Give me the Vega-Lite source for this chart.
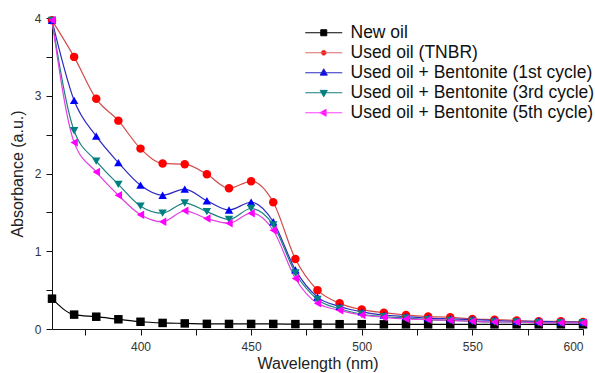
{
  "$schema": "https://vega.github.io/schema/vega-lite/v6.json",
  "width": 531,
  "height": 311,
  "autosize": {"type": "none"},
  "padding": {"left": 52, "top": 18, "right": 12, "bottom": 44},
  "background": "white",
  "config": {
    "font": "Liberation Sans",
    "view": {"stroke": null},
    "axis": {
      "grid": false,
      "domainColor": "#111",
      "tickColor": "#111",
      "tickSize": 6,
      "labelFontSize": 12,
      "labelColor": "#333",
      "titleFontSize": 16,
      "titleFontWeight": "normal",
      "titleColor": "#222"
    }
  },
  "datasets": {
    "spectra": [
      {"wavelength": 360, "absorbance": 0.39, "series": "New oil"},
      {"wavelength": 370, "absorbance": 0.185, "series": "New oil"},
      {"wavelength": 380, "absorbance": 0.158, "series": "New oil"},
      {"wavelength": 390, "absorbance": 0.125, "series": "New oil"},
      {"wavelength": 400, "absorbance": 0.093, "series": "New oil"},
      {"wavelength": 410, "absorbance": 0.078, "series": "New oil"},
      {"wavelength": 420, "absorbance": 0.072, "series": "New oil"},
      {"wavelength": 430, "absorbance": 0.066, "series": "New oil"},
      {"wavelength": 440, "absorbance": 0.065, "series": "New oil"},
      {"wavelength": 450, "absorbance": 0.065, "series": "New oil"},
      {"wavelength": 460, "absorbance": 0.065, "series": "New oil"},
      {"wavelength": 470, "absorbance": 0.063, "series": "New oil"},
      {"wavelength": 480, "absorbance": 0.062, "series": "New oil"},
      {"wavelength": 490, "absorbance": 0.062, "series": "New oil"},
      {"wavelength": 500, "absorbance": 0.062, "series": "New oil"},
      {"wavelength": 510, "absorbance": 0.06, "series": "New oil"},
      {"wavelength": 520, "absorbance": 0.06, "series": "New oil"},
      {"wavelength": 530, "absorbance": 0.06, "series": "New oil"},
      {"wavelength": 540, "absorbance": 0.06, "series": "New oil"},
      {"wavelength": 550, "absorbance": 0.06, "series": "New oil"},
      {"wavelength": 560, "absorbance": 0.06, "series": "New oil"},
      {"wavelength": 570, "absorbance": 0.06, "series": "New oil"},
      {"wavelength": 580, "absorbance": 0.06, "series": "New oil"},
      {"wavelength": 590, "absorbance": 0.06, "series": "New oil"},
      {"wavelength": 600, "absorbance": 0.06, "series": "New oil"},
      {"wavelength": 360, "absorbance": 3.97, "series": "Used oil (TNBR)"},
      {"wavelength": 370, "absorbance": 3.5, "series": "Used oil (TNBR)"},
      {"wavelength": 380, "absorbance": 2.96, "series": "Used oil (TNBR)"},
      {"wavelength": 390, "absorbance": 2.68, "series": "Used oil (TNBR)"},
      {"wavelength": 400, "absorbance": 2.32, "series": "Used oil (TNBR)"},
      {"wavelength": 410, "absorbance": 2.13, "series": "Used oil (TNBR)"},
      {"wavelength": 420, "absorbance": 2.12, "series": "Used oil (TNBR)"},
      {"wavelength": 430, "absorbance": 1.99, "series": "Used oil (TNBR)"},
      {"wavelength": 440, "absorbance": 1.81, "series": "Used oil (TNBR)"},
      {"wavelength": 450, "absorbance": 1.9, "series": "Used oil (TNBR)"},
      {"wavelength": 460, "absorbance": 1.63, "series": "Used oil (TNBR)"},
      {"wavelength": 470, "absorbance": 0.9, "series": "Used oil (TNBR)"},
      {"wavelength": 480, "absorbance": 0.5, "series": "Used oil (TNBR)"},
      {"wavelength": 490, "absorbance": 0.33, "series": "Used oil (TNBR)"},
      {"wavelength": 500, "absorbance": 0.25, "series": "Used oil (TNBR)"},
      {"wavelength": 510, "absorbance": 0.21, "series": "Used oil (TNBR)"},
      {"wavelength": 520, "absorbance": 0.18, "series": "Used oil (TNBR)"},
      {"wavelength": 530, "absorbance": 0.16, "series": "Used oil (TNBR)"},
      {"wavelength": 540, "absorbance": 0.15, "series": "Used oil (TNBR)"},
      {"wavelength": 550, "absorbance": 0.13, "series": "Used oil (TNBR)"},
      {"wavelength": 560, "absorbance": 0.12, "series": "Used oil (TNBR)"},
      {"wavelength": 570, "absorbance": 0.11, "series": "Used oil (TNBR)"},
      {"wavelength": 580, "absorbance": 0.1, "series": "Used oil (TNBR)"},
      {"wavelength": 590, "absorbance": 0.1, "series": "Used oil (TNBR)"},
      {"wavelength": 600, "absorbance": 0.09, "series": "Used oil (TNBR)"},
      {"wavelength": 360, "absorbance": 3.97, "series": "Used oil + Bentonite (1st cycle)"},
      {"wavelength": 370, "absorbance": 2.94, "series": "Used oil + Bentonite (1st cycle)"},
      {"wavelength": 380, "absorbance": 2.48, "series": "Used oil + Bentonite (1st cycle)"},
      {"wavelength": 390, "absorbance": 2.14, "series": "Used oil + Bentonite (1st cycle)"},
      {"wavelength": 400, "absorbance": 1.85, "series": "Used oil + Bentonite (1st cycle)"},
      {"wavelength": 410, "absorbance": 1.72, "series": "Used oil + Bentonite (1st cycle)"},
      {"wavelength": 420, "absorbance": 1.8, "series": "Used oil + Bentonite (1st cycle)"},
      {"wavelength": 430, "absorbance": 1.65, "series": "Used oil + Bentonite (1st cycle)"},
      {"wavelength": 440, "absorbance": 1.53, "series": "Used oil + Bentonite (1st cycle)"},
      {"wavelength": 450, "absorbance": 1.63, "series": "Used oil + Bentonite (1st cycle)"},
      {"wavelength": 460, "absorbance": 1.38, "series": "Used oil + Bentonite (1st cycle)"},
      {"wavelength": 470, "absorbance": 0.76, "series": "Used oil + Bentonite (1st cycle)"},
      {"wavelength": 480, "absorbance": 0.41, "series": "Used oil + Bentonite (1st cycle)"},
      {"wavelength": 490, "absorbance": 0.29, "series": "Used oil + Bentonite (1st cycle)"},
      {"wavelength": 500, "absorbance": 0.22, "series": "Used oil + Bentonite (1st cycle)"},
      {"wavelength": 510, "absorbance": 0.18, "series": "Used oil + Bentonite (1st cycle)"},
      {"wavelength": 520, "absorbance": 0.16, "series": "Used oil + Bentonite (1st cycle)"},
      {"wavelength": 530, "absorbance": 0.14, "series": "Used oil + Bentonite (1st cycle)"},
      {"wavelength": 540, "absorbance": 0.13, "series": "Used oil + Bentonite (1st cycle)"},
      {"wavelength": 550, "absorbance": 0.12, "series": "Used oil + Bentonite (1st cycle)"},
      {"wavelength": 560, "absorbance": 0.11, "series": "Used oil + Bentonite (1st cycle)"},
      {"wavelength": 570, "absorbance": 0.1, "series": "Used oil + Bentonite (1st cycle)"},
      {"wavelength": 580, "absorbance": 0.1, "series": "Used oil + Bentonite (1st cycle)"},
      {"wavelength": 590, "absorbance": 0.09, "series": "Used oil + Bentonite (1st cycle)"},
      {"wavelength": 600, "absorbance": 0.09, "series": "Used oil + Bentonite (1st cycle)"},
      {"wavelength": 360, "absorbance": 3.97, "series": "Used oil + Bentonite (3rd cycle)"},
      {"wavelength": 370, "absorbance": 2.55, "series": "Used oil + Bentonite (3rd cycle)"},
      {"wavelength": 380, "absorbance": 2.16, "series": "Used oil + Bentonite (3rd cycle)"},
      {"wavelength": 390, "absorbance": 1.86, "series": "Used oil + Bentonite (3rd cycle)"},
      {"wavelength": 400, "absorbance": 1.58, "series": "Used oil + Bentonite (3rd cycle)"},
      {"wavelength": 410, "absorbance": 1.49, "series": "Used oil + Bentonite (3rd cycle)"},
      {"wavelength": 420, "absorbance": 1.62, "series": "Used oil + Bentonite (3rd cycle)"},
      {"wavelength": 430, "absorbance": 1.51, "series": "Used oil + Bentonite (3rd cycle)"},
      {"wavelength": 440, "absorbance": 1.41, "series": "Used oil + Bentonite (3rd cycle)"},
      {"wavelength": 450, "absorbance": 1.55, "series": "Used oil + Bentonite (3rd cycle)"},
      {"wavelength": 460, "absorbance": 1.34, "series": "Used oil + Bentonite (3rd cycle)"},
      {"wavelength": 470, "absorbance": 0.72, "series": "Used oil + Bentonite (3rd cycle)"},
      {"wavelength": 480, "absorbance": 0.38, "series": "Used oil + Bentonite (3rd cycle)"},
      {"wavelength": 490, "absorbance": 0.26, "series": "Used oil + Bentonite (3rd cycle)"},
      {"wavelength": 500, "absorbance": 0.19, "series": "Used oil + Bentonite (3rd cycle)"},
      {"wavelength": 510, "absorbance": 0.16, "series": "Used oil + Bentonite (3rd cycle)"},
      {"wavelength": 520, "absorbance": 0.14, "series": "Used oil + Bentonite (3rd cycle)"},
      {"wavelength": 530, "absorbance": 0.12, "series": "Used oil + Bentonite (3rd cycle)"},
      {"wavelength": 540, "absorbance": 0.11, "series": "Used oil + Bentonite (3rd cycle)"},
      {"wavelength": 550, "absorbance": 0.1, "series": "Used oil + Bentonite (3rd cycle)"},
      {"wavelength": 560, "absorbance": 0.09, "series": "Used oil + Bentonite (3rd cycle)"},
      {"wavelength": 570, "absorbance": 0.09, "series": "Used oil + Bentonite (3rd cycle)"},
      {"wavelength": 580, "absorbance": 0.08, "series": "Used oil + Bentonite (3rd cycle)"},
      {"wavelength": 590, "absorbance": 0.08, "series": "Used oil + Bentonite (3rd cycle)"},
      {"wavelength": 600, "absorbance": 0.08, "series": "Used oil + Bentonite (3rd cycle)"},
      {"wavelength": 360, "absorbance": 3.97, "series": "Used oil + Bentonite (5th cycle)"},
      {"wavelength": 370, "absorbance": 2.4, "series": "Used oil + Bentonite (5th cycle)"},
      {"wavelength": 380, "absorbance": 2.02, "series": "Used oil + Bentonite (5th cycle)"},
      {"wavelength": 390, "absorbance": 1.72, "series": "Used oil + Bentonite (5th cycle)"},
      {"wavelength": 400, "absorbance": 1.47, "series": "Used oil + Bentonite (5th cycle)"},
      {"wavelength": 410, "absorbance": 1.38, "series": "Used oil + Bentonite (5th cycle)"},
      {"wavelength": 420, "absorbance": 1.52, "series": "Used oil + Bentonite (5th cycle)"},
      {"wavelength": 430, "absorbance": 1.42, "series": "Used oil + Bentonite (5th cycle)"},
      {"wavelength": 440, "absorbance": 1.36, "series": "Used oil + Bentonite (5th cycle)"},
      {"wavelength": 450, "absorbance": 1.49, "series": "Used oil + Bentonite (5th cycle)"},
      {"wavelength": 460, "absorbance": 1.27, "series": "Used oil + Bentonite (5th cycle)"},
      {"wavelength": 470, "absorbance": 0.65, "series": "Used oil + Bentonite (5th cycle)"},
      {"wavelength": 480, "absorbance": 0.33, "series": "Used oil + Bentonite (5th cycle)"},
      {"wavelength": 490, "absorbance": 0.24, "series": "Used oil + Bentonite (5th cycle)"},
      {"wavelength": 500, "absorbance": 0.18, "series": "Used oil + Bentonite (5th cycle)"},
      {"wavelength": 510, "absorbance": 0.15, "series": "Used oil + Bentonite (5th cycle)"},
      {"wavelength": 520, "absorbance": 0.13, "series": "Used oil + Bentonite (5th cycle)"},
      {"wavelength": 530, "absorbance": 0.12, "series": "Used oil + Bentonite (5th cycle)"},
      {"wavelength": 540, "absorbance": 0.11, "series": "Used oil + Bentonite (5th cycle)"},
      {"wavelength": 550, "absorbance": 0.1, "series": "Used oil + Bentonite (5th cycle)"},
      {"wavelength": 560, "absorbance": 0.09, "series": "Used oil + Bentonite (5th cycle)"},
      {"wavelength": 570, "absorbance": 0.09, "series": "Used oil + Bentonite (5th cycle)"},
      {"wavelength": 580, "absorbance": 0.08, "series": "Used oil + Bentonite (5th cycle)"},
      {"wavelength": 590, "absorbance": 0.08, "series": "Used oil + Bentonite (5th cycle)"},
      {"wavelength": 600, "absorbance": 0.08, "series": "Used oil + Bentonite (5th cycle)"}
    ]
  },
  "data": {"name": "spectra"},
  "encoding": {
    "x": {
      "field": "wavelength",
      "type": "quantitative",
      "scale": {"domain": [360, 600], "nice": false, "zero": false},
      "axis": {
        "title": "Wavelength (nm)",
        "values": [375, 400, 425, 450, 475, 500, 525, 550, 575, 600],
        "labelExpr": "datum.value % 50 == 0 ? format(datum.value, 'd') : ''",
        "labelPadding": 6,
        "titlePadding": 3
      }
    },
    "y": {
      "field": "absorbance",
      "type": "quantitative",
      "scale": {"domain": [0, 4], "nice": false},
      "axis": {
        "title": "Absorbance (a.u.)",
        "values": [0, 0.5, 1, 1.5, 2, 2.5, 3, 3.5, 4],
        "labelExpr": "datum.value % 1 == 0 ? format(datum.value, 'd') : ''",
        "labelPadding": 5,
        "titlePadding": 9
      }
    }
  },
  "layer": [
    {
      "mark": {"type": "line", "interpolate": "monotone", "strokeWidth": 1.2},
      "encoding": {
        "stroke": {
          "field": "series",
          "type": "nominal",
          "scale": {
            "domain": ["New oil", "Used oil (TNBR)", "Used oil + Bentonite (1st cycle)", "Used oil + Bentonite (3rd cycle)", "Used oil + Bentonite (5th cycle)"],
            "range": ["#000000", "#d24a4a", "#2b2bc0", "#1a8080", "#e040e0"]
          },
          "legend": null
        }
      }
    },
    {
      "mark": {"type": "point", "filled": true, "size": 72, "opacity": 1, "strokeWidth": 0},
      "encoding": {
        "fill": {
          "field": "series",
          "type": "nominal",
          "scale": {
            "domain": ["New oil", "Used oil (TNBR)", "Used oil + Bentonite (1st cycle)", "Used oil + Bentonite (3rd cycle)", "Used oil + Bentonite (5th cycle)"],
            "range": ["#000000", "#ff0000", "#0000ff", "#008080", "#ff00ff"]
          },
          "legend": null
        },
        "shape": {
          "field": "series",
          "type": "nominal",
          "scale": {
            "domain": ["New oil", "Used oil (TNBR)", "Used oil + Bentonite (1st cycle)", "Used oil + Bentonite (3rd cycle)", "Used oil + Bentonite (5th cycle)"],
            "range": ["square", "circle", "triangle-up", "triangle-down", "triangle-left"]
          },
          "legend": null
        }
      }
    },
    {
      "transform": [{"filter": "datum.wavelength > 1000"}],
      "mark": {"type": "point", "filled": true, "size": 100, "opacity": 1, "strokeWidth": 1},
      "encoding": {
        "fill": {
          "field": "series",
          "type": "nominal",
          "scale": {
            "domain": ["New oil", "Used oil (TNBR)", "Used oil + Bentonite (1st cycle)", "Used oil + Bentonite (3rd cycle)", "Used oil + Bentonite (5th cycle)"],
            "range": ["#000000", "#ff0000", "#0000ff", "#008080", "#ff00ff"]
          },
          "legend": {
            "orient": "none",
            "legendX": 263,
            "legendY": 6,
            "title": null,
            "labelFontSize": 17.5,
            "labelColor": "#111",
            "symbolSize": 100,
            "symbolStrokeWidth": 1,
            "symbolOpacity": 1,
            "rowPadding": 1,
            "labelOffset": 18,
            "labelLimit": 0,
            "encode": {"symbols": {"update": {"opacity": {"value": 1}, "fillOpacity": {"value": 1}, "strokeOpacity": {"value": 1}}}}
          }
        },
        "stroke": {
          "field": "series",
          "type": "nominal",
          "scale": {
            "domain": ["New oil", "Used oil (TNBR)", "Used oil + Bentonite (1st cycle)", "Used oil + Bentonite (3rd cycle)", "Used oil + Bentonite (5th cycle)"],
            "range": ["#000000", "#e06a6a", "#2b2bc0", "#108080", "#ff40ff"]
          }
        },
        "shape": {
          "field": "series",
          "type": "nominal",
          "scale": {
            "domain": ["New oil", "Used oil (TNBR)", "Used oil + Bentonite (1st cycle)", "Used oil + Bentonite (3rd cycle)", "Used oil + Bentonite (5th cycle)"],
            "range": [
              "M-3.7,0H3.7M-0.6,-0.6H0.6V0.6H-0.6Z",
              "M-3.7,0H3.7M0.5,0A0.5,0.5,0,1,1,-0.5,0A0.5,0.5,0,1,1,0.5,0Z",
              "M-3.7,0H3.7M0,-0.8L0.72,0.48H-0.72Z",
              "M-3.7,0H3.7M0,0.8L0.72,-0.48H-0.72Z",
              "M-3.7,0H3.7M-0.8,0L0.48,-0.72V0.72Z"
            ]
          }
        }
      }
    }
  ],
  "resolve": {"scale": {"fill": "independent", "stroke": "independent", "shape": "independent"}}
}
